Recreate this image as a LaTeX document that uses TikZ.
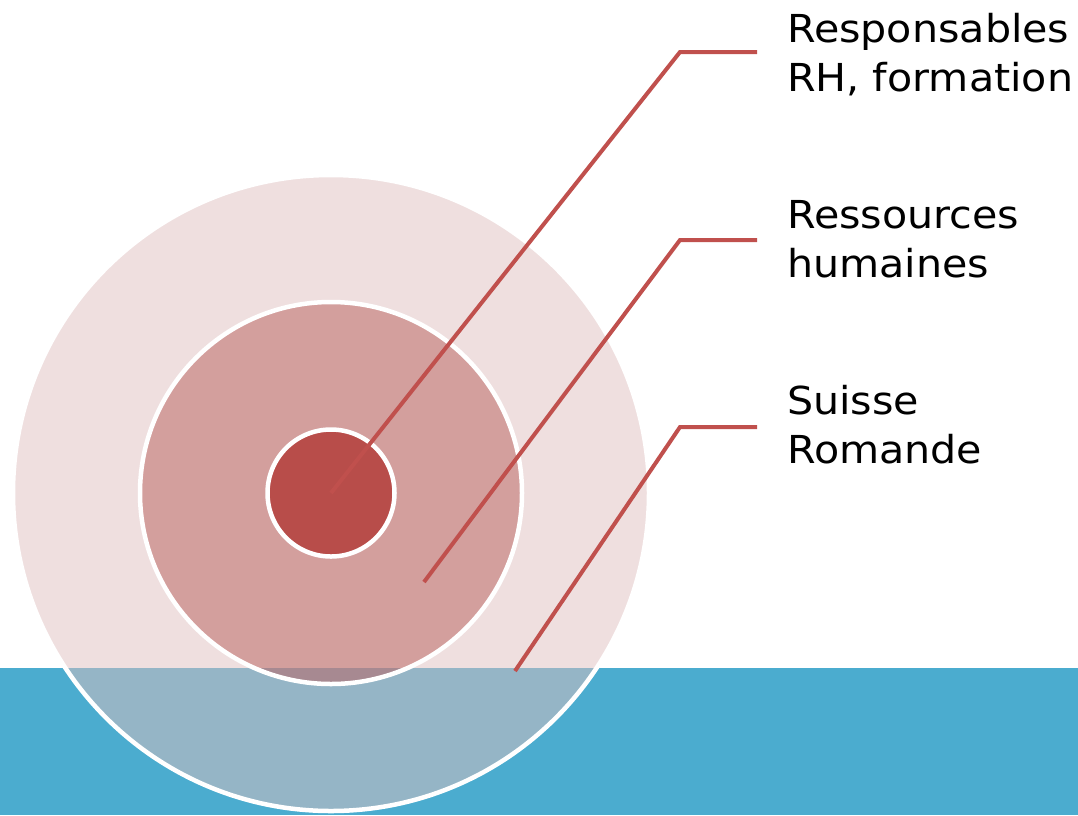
\documentclass[tikz,border=0pt]{standalone}
\usepackage{fontspec}
\setmainfont{DejaVu Sans}[FakeStretch=1.07]
\definecolor{seablue}{RGB}{75,172,207}
\definecolor{outerpink}{RGB}{223,191,191}
\definecolor{midpink}{RGB}{185,95,93}
\definecolor{corered}{RGB}{184,77,74}
\definecolor{leadred}{RGB}{192,80,77}
\tikzset{
  ring/.style={draw=white, line width=4.5pt},
  leader/.style={draw=leadred, line width=4pt, line join=miter},
  label/.style={anchor=north west, inner sep=0pt, align=left, font=\fontsize{38.5}{49}\selectfont}
}
\begin{document}
\begin{tikzpicture}[x=1pt,y=-1pt]
\useasboundingbox (0,0) rectangle (1078,815);
\fill[seablue] (0,668) rectangle (1078,815);
\coordinate (c) at (331,493);
\fill[outerpink, fill opacity=0.5] (c) circle (318);
\draw[ring] (c) circle (318);
\fill[midpink, fill opacity=0.5] (c) circle (191);
\draw[ring] (c) circle (191);
\fill[corered] (c) circle (63.5);
\draw[ring] (c) circle (63.5);
\coordinate (e1) at (680,52);
\coordinate (f1) at (757,52);
\coordinate (s2) at (424,582);
\coordinate (e2) at (680,240);
\coordinate (f2) at (757,240);
\coordinate (s3) at (515,671);
\coordinate (e3) at (680,427);
\coordinate (f3) at (757,427);
\draw[leader] (c) -- (e1) -- (f1);
\draw[leader] (s2) -- (e2) -- (f2);
\draw[leader] (s3) -- (e3) -- (f3);
\node[label] (t1) at (787,13) {Responsables\\RH, formation};
\node[label] (t2) at (787,200) {Ressources\\humaines};
\node[label] (t3) at (787,385) {Suisse\\Romande};
\end{tikzpicture}
\end{document}
